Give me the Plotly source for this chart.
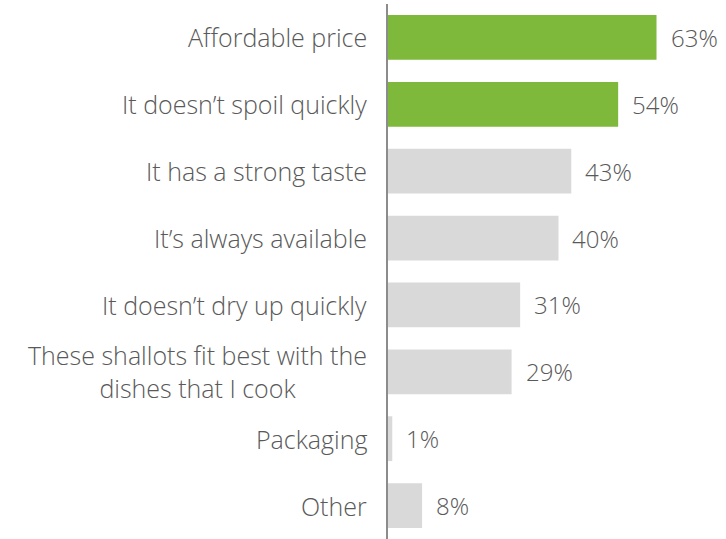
import plotly.graph_objects as go

# Reasons for choosing these shallots, share of respondents (%)
categories = [
    "Affordable price",
    "It doesn\u2019t spoil quickly",
    "It has a strong taste",
    "It\u2019s always available",
    "It doesn\u2019t dry up quickly",
    "These shallots fit best with the<br>dishes that I cook",
    "Packaging",
    "Other",
]
values = [63, 54, 43, 40, 31, 29, 1, 8]
highlighted = [True, True, False, False, False, False, False, False]

GREEN = "#7FB93B"
GREY = "#D9D9D9"
TEXT = "#595959"
FONT = "'Open Sans', Lato, sans-serif"

colors = [GREEN if h else GREY for h in highlighted]

fig = go.Figure(
    go.Bar(
        x=values,
        y=categories,
        orientation="h",
        marker=dict(color=colors, line=dict(width=0)),
        hoverinfo="skip",
    )
)

# value labels to the right of each bar
for cat, v in zip(categories, values):
    fig.add_annotation(
        x=v, y=cat, xref="x", yref="y",
        text=f"{v}%", showarrow=False,
        xanchor="left", yanchor="middle", xshift=12,
        font=dict(family=FONT, size=24, color=TEXT, weight=300),
    )

# category labels left of the axis, centred for multi-line text
for cat in categories:
    fig.add_annotation(
        x=0, y=cat, xref="paper", yref="y",
        text=cat, showarrow=False,
        xanchor="right", yanchor="middle", xshift=-19,
        align="center",
        font=dict(family=FONT, size=25, color=TEXT, weight=300),
    )

fig.update_layout(
    width=726, height=539,
    margin=dict(l=388, r=0, t=4, b=0),
    paper_bgcolor="white", plot_bgcolor="white",
    bargap=0.33,
    showlegend=False,
    xaxis=dict(range=[0, 79.3], visible=False, fixedrange=True),
    yaxis=dict(
        autorange="reversed",
        showticklabels=False,
        showgrid=False, zeroline=False,
        showline=True, linecolor="#8C8C8C", linewidth=1.5,
        ticks="", fixedrange=True,
    ),
)

fig.write_html("out.html")
